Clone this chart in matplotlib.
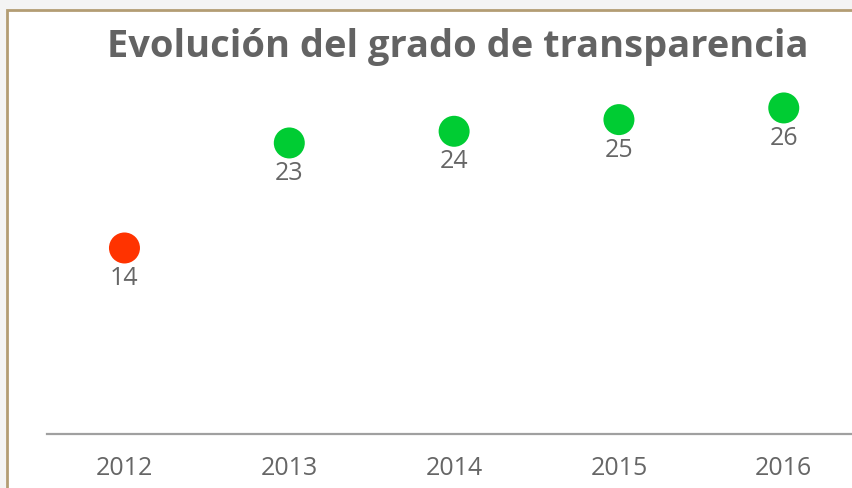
import matplotlib
matplotlib.use("Agg")
import matplotlib.pyplot as plt
from matplotlib.patches import Rectangle

years = ["2012", "2013", "2014", "2015", "2016"]
values = [14, 23, 24, 25, 26]
colors = ["#ff3300", "#00cc33", "#00cc33", "#00cc33", "#00cc33"]
title = "Evolución del grado de transparencia"

plt.rcParams['font.family'] = ['Open Sans', 'DejaVu Sans']

fig = plt.figure(figsize=(8.53, 4.88), dpi=100)
fig.patch.set_facecolor("#f4f4f4")
# framed white panel
fig.patches.append(Rectangle((7/853, -0.1), 1.1, (488-10)/488 + 0.1,
                             transform=fig.transFigure, facecolor="white",
                             edgecolor="#b39d74", linewidth=2.0, zorder=-5))

ax = fig.add_axes([47/853, (488-434)/488, 1 - 47/853, 434/488])
ax.set_zorder(2)
ax.set_facecolor("none")
x = list(range(len(years)))
ax.scatter(x, values, s=(31*0.72)**2, c=colors, edgecolors="none", zorder=3)
for xi, v in zip(x, values):
    ax.annotate(str(v), (xi, v), xytext=(0, -22), textcoords="offset points",
                ha="center", va="center", fontsize=18, color="#666666")

ax.set_xlim(-0.47, 4.42)
ax.set_ylim(-1.94, 35.25)
ax.set_xticks(x)
ax.set_xticklabels(years, fontsize=18, color="#666666")
ax.tick_params(axis="x", length=0, pad=16)
ax.set_yticks([])
for s in ["top", "right", "left"]:
    ax.spines[s].set_visible(False)
ax.spines["bottom"].set_color("#a0a0a0")
ax.spines["bottom"].set_linewidth(1.6)

fig.text(458/853, 1 - 47/488, title, ha="center", va="center",
         fontsize=27.4, fontweight="bold", color="#636363", zorder=3)

fig.savefig("out.png", dpi=100, facecolor=fig.get_facecolor())
